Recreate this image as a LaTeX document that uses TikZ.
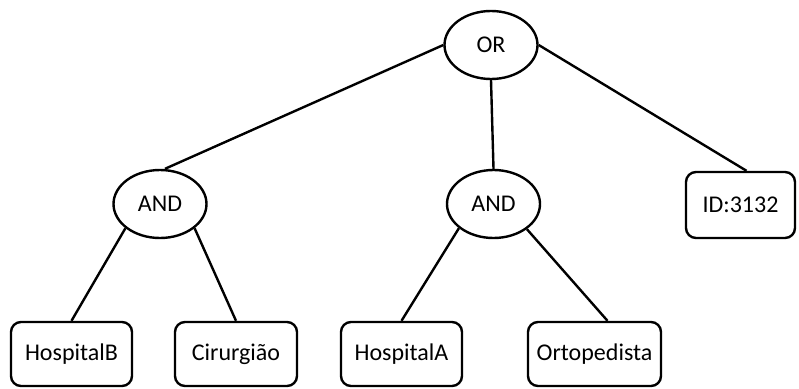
\documentclass[tikz,border=0pt]{standalone}
\usepackage{fontspec}
\setmainfont{Carlito}
\usetikzlibrary{shapes.geometric}
\begin{document}
\begin{tikzpicture}[x=1pt,y=-1pt,
  gate/.style={draw,ellipse,line width=2.4pt,minimum width=93pt,minimum height=68pt,inner sep=0pt,font=\fontsize{24}{28}\selectfont},
  leaf/.style={draw,rectangle,rounded corners=10pt,line width=2.4pt,minimum height=64pt,inner sep=0pt,font=\fontsize{24}{28}\selectfont},
  edge/.style={line width=2.4pt}]
\useasboundingbox (0,0) rectangle (799,388);
% gates
\node[gate] (or) at (491,45) {OR};
\node[gate] (andL) at (160,204) {AND};
\node[gate] (andM) at (493.5,204) {AND};
% leaves
\node[leaf,minimum width=109pt,minimum height=66pt] (id) at (740.5,205) {ID:3132};
\node[leaf,minimum width=121pt] (hb) at (71.5,354) {HospitalB};
\node[leaf,minimum width=122pt] (ci) at (236,354) {Cirurgião};
\node[leaf,minimum width=121pt] (ha) at (401.5,354) {HospitalA};
\node[leaf,minimum width=133pt] (ort) at (594.5,354) {Ortopedista};
% connectors
\draw[edge] (or.west) -- ([xshift=5pt]andL.north);
\draw[edge] (or.south) -- (andM.north);
\draw[edge] (or.east) -- ([xshift=6pt]id.north);
\draw[edge] (andL.215) -- (hb.north);
\draw[edge] (andL.325) -- (ci.north);
\draw[edge] (andM.215) -- (ha.north);
\draw[edge] (andM.323) -- ([xshift=13pt]ort.north);
\end{tikzpicture}
\end{document}
